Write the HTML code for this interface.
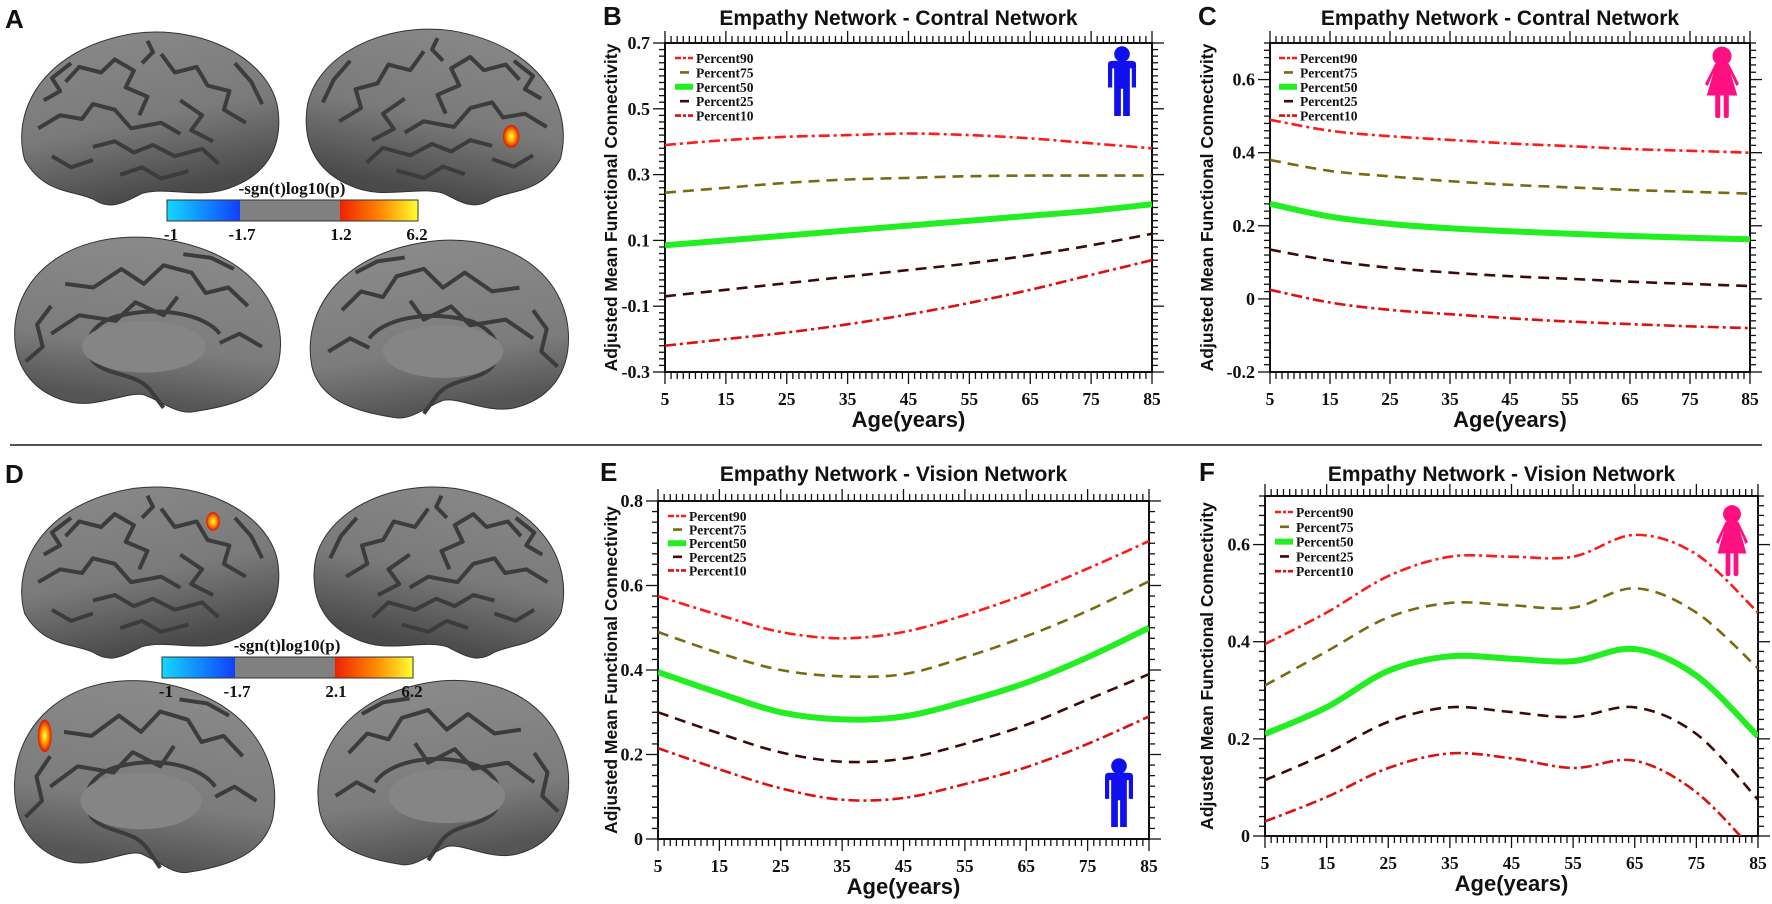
<!DOCTYPE html>
<html><head><meta charset="utf-8">
<style>
html,body{margin:0;padding:0;background:#fff;}
svg{display:block;}
.lbl{font-family:"Liberation Sans",Arial,sans-serif;font-weight:bold;fill:#111;}
.num{font-family:"Liberation Serif",serif;font-weight:bold;fill:#111;}
</style></head>
<body>
<svg id="fig" width="1772" height="904" viewBox="0 0 1772 904" xmlns="http://www.w3.org/2000/svg">
<defs>
<linearGradient id="brainGrad" x1="0" y1="0" x2="0.3" y2="1">
<stop offset="0" stop-color="#8a8a8a"/><stop offset="0.6" stop-color="#7a7a7a"/><stop offset="1" stop-color="#4a4a4a"/>
</linearGradient>
<linearGradient id="medGrad" x1="0" y1="0" x2="0.2" y2="1">
<stop offset="0" stop-color="#8c8c8c"/><stop offset="0.7" stop-color="#7c7c7c"/><stop offset="1" stop-color="#555"/>
</linearGradient>
<linearGradient id="cbar" x1="0" y1="0" x2="1" y2="0">
<stop offset="0" stop-color="#12d8ff"/><stop offset="0.29" stop-color="#1040ff"/>
<stop offset="0.29" stop-color="#808080"/><stop offset="0.69" stop-color="#808080"/>
<stop offset="0.69" stop-color="#ee2200"/><stop offset="0.85" stop-color="#ff8800"/><stop offset="1" stop-color="#ffff30"/>
</linearGradient>
<radialGradient id="blob" cx="0.5" cy="0.5" r="0.5">
<stop offset="0" stop-color="#ffff40"/><stop offset="0.5" stop-color="#ff9900"/><stop offset="1" stop-color="#e01000"/>
</radialGradient>
</defs>
<line x1="10" y1="445" x2="1762" y2="445" stroke="#555" stroke-width="2"/>
<g id="brains"></g>
<g id="charts"></g>
</svg>
<script>
// ---------- chart data ----------
const ages = [5, 15, 25, 35, 45, 55, 65, 75, 85];
const seriesNames = ["Percent90", "Percent75", "Percent50", "Percent25", "Percent10"];
const xTickLabels = ["5", "15", "25", "35", "45", "55", "65", "75", "85"];

const bP90 = [0.39, 0.405, 0.415, 0.42, 0.425, 0.42, 0.41, 0.395, 0.38];
const bP75 = [0.245, 0.26, 0.275, 0.285, 0.29, 0.295, 0.297, 0.297, 0.297];
const bP50 = [0.085, 0.10, 0.115, 0.13, 0.145, 0.16, 0.175, 0.19, 0.21];
const bP25 = [-0.07, -0.05, -0.03, -0.01, 0.01, 0.03, 0.055, 0.085, 0.12];
const bP10 = [-0.22, -0.20, -0.18, -0.155, -0.125, -0.09, -0.05, -0.005, 0.04];
const bYTicks = [-0.3, -0.1, 0.1, 0.3, 0.5, 0.7];
const bYLabels = ["-0.3", "-0.1", "0.1", "0.3", "0.5", "0.7"];

const cP90 = [0.49, 0.46, 0.445, 0.435, 0.425, 0.418, 0.41, 0.405, 0.40];
const cP75 = [0.38, 0.35, 0.335, 0.322, 0.312, 0.305, 0.298, 0.293, 0.288];
const cP50 = [0.26, 0.225, 0.205, 0.193, 0.185, 0.178, 0.172, 0.167, 0.163];
const cP25 = [0.135, 0.105, 0.085, 0.072, 0.062, 0.055, 0.047, 0.041, 0.035];
const cP10 = [0.025, -0.01, -0.03, -0.042, -0.053, -0.062, -0.069, -0.075, -0.08];
const cYTicks = [-0.2, 0, 0.2, 0.4, 0.6];
const cYLabels = ["-0.2", "0", "0.2", "0.4", "0.6"];

const eP90 = [0.575, 0.53, 0.49, 0.475, 0.49, 0.53, 0.58, 0.64, 0.705];
const eP75 = [0.49, 0.44, 0.40, 0.385, 0.39, 0.43, 0.48, 0.54, 0.61];
const eP50 = [0.395, 0.345, 0.30, 0.283, 0.29, 0.325, 0.37, 0.43, 0.50];
const eP25 = [0.30, 0.25, 0.205, 0.183, 0.19, 0.225, 0.27, 0.33, 0.39];
const eP10 = [0.215, 0.165, 0.12, 0.093, 0.097, 0.13, 0.17, 0.225, 0.29];
const eYTicks = [0, 0.2, 0.4, 0.6, 0.8];
const eYLabels = ["0", "0.2", "0.4", "0.6", "0.8"];

const fP90 = [0.395, 0.46, 0.535, 0.575, 0.575, 0.575, 0.62, 0.58, 0.46];
const fP75 = [0.31, 0.38, 0.45, 0.48, 0.475, 0.47, 0.51, 0.46, 0.345];
const fP50 = [0.21, 0.265, 0.34, 0.37, 0.365, 0.36, 0.385, 0.33, 0.205];
const fP25 = [0.115, 0.17, 0.235, 0.265, 0.255, 0.245, 0.265, 0.21, 0.075];
const fP10 = [0.03, 0.08, 0.14, 0.17, 0.16, 0.14, 0.155, 0.09, -0.04];
const fYTicks = [0, 0.2, 0.4, 0.6];
const fYLabels = ["0", "0.2", "0.4", "0.6"];

const NS = "http://www.w3.org/2000/svg";
function mk(tag, attrs, parent) {
  const e = document.createElementNS(NS, tag);
  for (const k in attrs) e.setAttribute(k, attrs[k]);
  if (parent) parent.appendChild(e);
  return e;
}
const styles = [
  {c: "#ff1a1a", w: 2.6, d: "11 4 3 4"},
  {c: "#7a6a10", w: 2.6, d: "11 7"},
  {c: "#22ee22", w: 6, d: ""},
  {c: "#3d0a0a", w: 2.6, d: "11 7"},
  {c: "#dd1010", w: 2.6, d: "11 4 3 4"}
];

function smoothPath(pts) {
  let d = "M" + pts[0][0].toFixed(1) + "," + pts[0][1].toFixed(1);
  for (let i = 0; i < pts.length - 1; i++) {
    const p0 = pts[Math.max(0, i - 1)], p1 = pts[i], p2 = pts[i + 1], p3 = pts[Math.min(pts.length - 1, i + 2)];
    const c1 = [p1[0] + (p2[0] - p0[0]) / 6, p1[1] + (p2[1] - p0[1]) / 6];
    const c2 = [p2[0] - (p3[0] - p1[0]) / 6, p2[1] - (p3[1] - p1[1]) / 6];
    d += " C" + c1[0].toFixed(1) + "," + c1[1].toFixed(1) + " " + c2[0].toFixed(1) + "," + c2[1].toFixed(1) + " " + p2[0].toFixed(1) + "," + p2[1].toFixed(1);
  }
  return d;
}

function icon(g, kind, x, y, w, h) {
  const ic = mk("g", {}, g);
  
  
  const col = kind === 'male' ? "#1010ee" : "#ff1080";
  const cx = x + w / 2;
  mk("circle", {cx: cx, cy: y + h * 0.09, r: w * 0.28, fill: col}, ic);
  if (kind === 'male') {
    mk("path", {d: `M${x} ${y+h*0.24} Q${x} ${y+h*0.19} ${x+w*0.15} ${y+h*0.19} L${x+w*0.85} ${y+h*0.19} Q${x+w} ${y+h*0.19} ${x+w} ${y+h*0.24} L${x+w} ${y+h*0.58} L${x+w*0.85} ${y+h*0.58} L${x+w*0.85} ${y+h*0.3} L${x+w*0.78} ${y+h*0.3} L${x+w*0.78} ${y+h} L${x+w*0.54} ${y+h} L${x+w*0.54} ${y+h*0.6} L${x+w*0.46} ${y+h*0.6} L${x+w*0.46} ${y+h} L${x+w*0.22} ${y+h} L${x+w*0.22} ${y+h*0.3} L${x+w*0.15} ${y+h*0.3} L${x+w*0.15} ${y+h*0.58} L${x} ${y+h*0.58} Z`, fill: col}, ic);
  } else {
    mk("path", {d: `M${x+w*0.3} ${y+h*0.2} L${x+w*0.7} ${y+h*0.2} L${x+w} ${y+h*0.5} L${x+w*0.92} ${y+h*0.53} L${x+w*0.75} ${y+h*0.33} L${x+w*0.95} ${y+h*0.67} L${x+w*0.05} ${y+h*0.67} L${x+w*0.25} ${y+h*0.33} L${x+w*0.08} ${y+h*0.53} L${x} ${y+h*0.5} Z`, fill: col}, ic);
    mk("rect", {x: x + w * 0.3, y: y + h * 0.66, width: w * 0.15, height: h * 0.34, rx: 2, fill: col}, ic);
    mk("rect", {x: x + w * 0.55, y: y + h * 0.66, width: w * 0.15, height: h * 0.34, rx: 2, fill: col}, ic);
  }
}

function chart(cfg) {
  const root = document.getElementById("charts");
  const g = mk("g", {}, root);
  
  
  const {l, r, t, b} = cfg.box;
  const X = a => l + (a - 5) / 80 * (r - l);
  const Y = v => b - (v - cfg.ymin) / (cfg.ymax - cfg.ymin) * (b - t);

  const letter = mk("text", {x: cfg.letterX, y: cfg.titleY, class: "lbl", "font-size": 26}, g);
  letter.textContent = cfg.id.toUpperCase();
  
  
  const title = mk("text", {x: (l + r) / 2 - 10, y: cfg.titleY, class: "lbl", "font-size": 21, "text-anchor": "middle"}, g);
  title.textContent = cfg.title;
  
  

  const frame = mk("rect", {x: l, y: t, width: r - l, height: b - t, fill: "none", stroke: "#111", "stroke-width": 2}, g);
  
  

  const xt = mk("g", {stroke: "#111", "stroke-width": 1.3}, g);
  
  
  for (let a = 5; a <= 85; a++) {
    const major = (a - 5) % 10 === 0;
    const len = major ? 12 : 7;
    mk("line", {x1: X(a), y1: b, x2: X(a), y2: b + len}, xt);
    mk("line", {x1: X(a), y1: t, x2: X(a), y2: t - len}, xt);
  }
  ages.forEach((a, i) => {
    const tx = mk("text", {x: X(a), y: b + 33, class: "num", "font-size": 17.5, "text-anchor": "middle"}, g);
    tx.textContent = xTickLabels[i];
    
    
  });
  const yt = mk("g", {stroke: "#111", "stroke-width": 1.3}, g);
  
  
  const n = Math.round((cfg.ymax - cfg.ymin) / cfg.minor);
  for (let k = 0; k <= n; k++) {
    const v = cfg.ymin + k * cfg.minor;
    const major = cfg.yTicks.some(tv => Math.abs(tv - v) < 1e-6);
    const len = major ? 12 : 6;
    mk("line", {x1: l, y1: Y(v), x2: l - len, y2: Y(v)}, yt);
    mk("line", {x1: r, y1: Y(v), x2: r + len, y2: Y(v)}, yt);
  }
  cfg.yTicks.forEach((v, i) => {
    const ty = mk("text", {x: l - 15, y: Y(v) + 6, class: "num", "font-size": 18, "text-anchor": "end"}, g);
    ty.textContent = cfg.yLabels[i];
    
    
  });
  const xl = mk("text", {x: (l + r) / 2, y: b + 55, class: "lbl", "font-size": 22, "text-anchor": "middle"}, g);
  xl.textContent = "Age(years)";
  
  
  const yl = mk("text", {x: 0, y: 0, class: "lbl", "font-size": 17.5, "text-anchor": "middle", transform: `translate(${cfg.ylabX},${(t + b) / 2}) rotate(-90)`}, g);
  yl.textContent = "Adjusted Mean Functional Connectivity";
  
  

  const clipId = "clip-" + cfg.id;
  const cp = mk("clipPath", {id: clipId}, g);
  mk("rect", {x: l, y: t, width: r - l, height: b - t}, cp);
  const sg = mk("g", {"clip-path": `url(#${clipId})`, fill: "none"}, g);
  cfg.series.forEach((vals, i) => {
    const pts = ages.map((a, j) => [X(a), Y(vals[j])]);
    const st = styles[i];
    const p = mk("path", {d: smoothPath(pts), stroke: st.c, "stroke-width": st.w, "stroke-dasharray": st.d}, sg);
    
    
  });
  const lg = mk("g", {}, g);
  
  
  seriesNames.forEach((nm, i) => {
    const yy = cfg.legY + i * cfg.legDy;
    const st = styles[i];
    const ent = mk("g", {}, lg);
    
    
    mk("line", {x1: cfg.legX, y1: yy, x2: cfg.legX + 18, y2: yy, stroke: st.c, "stroke-width": st.w, "stroke-dasharray": st.d ? (i === 1 || i === 3 ? "0 5 9 4" : "6 2 3 2") : ""}, ent);
    const tx = mk("text", {x: cfg.legX + 21, y: yy + 5, class: "num", "font-size": 13.5}, ent);
    tx.textContent = nm;
  });
  icon(g, cfg.icon.kind, cfg.icon.x, cfg.icon.y, cfg.icon.w, cfg.icon.h);
}

chart({id: "b", title: "Empathy Network - Contral Network", box: {l: 665, r: 1152, t: 43, b: 372},
  ymin: -0.3, ymax: 0.7, minor: 0.02, yTicks: bYTicks, yLabels: bYLabels,
  series: [bP90, bP75, bP50, bP25, bP10], letterX: 603, titleY: 25, ylabX: 617,
  legX: 675, legY: 58, legDy: 14.4, icon: {kind: "male", x: 1108, y: 48, w: 28, h: 68}});
chart({id: "c", title: "Empathy Network - Contral Network", box: {l: 1270, r: 1750, t: 43, b: 372},
  ymin: -0.2, ymax: 0.7, minor: 0.02, yTicks: cYTicks, yLabels: cYLabels,
  series: [cP90, cP75, cP50, cP25, cP10], letterX: 1198, titleY: 25, ylabX: 1213,
  legX: 1279, legY: 58, legDy: 14.4, icon: {kind: "female", x: 1705, y: 50, w: 34, h: 68}});
chart({id: "e", title: "Empathy Network - Vision Network", box: {l: 658, r: 1149, t: 501, b: 839},
  ymin: 0, ymax: 0.8, minor: 0.025, yTicks: eYTicks, yLabels: eYLabels,
  series: [eP90, eP75, eP50, eP25, eP10], letterX: 600, titleY: 481, ylabX: 617,
  legX: 668, legY: 516, legDy: 13.6, icon: {kind: "male", x: 1105, y: 760, w: 28, h: 67}});
chart({id: "f", title: "Empathy Network - Vision Network", box: {l: 1265, r: 1758, t: 496, b: 836},
  ymin: 0, ymax: 0.7, minor: 0.02, yTicks: fYTicks, yLabels: fYLabels,
  series: [fP90, fP75, fP50, fP25, fP10], letterX: 1199, titleY: 481, ylabX: 1213,
  legX: 1275, legY: 512, legDy: 14.8, icon: {kind: "female", x: 1716, y: 508, w: 32, h: 68}});

// ---------- brains ----------
const lateral = "M5,72 C0,45 12,12 45,4 C72,-1 97,20 98,48 C99,68 92,80 82,86 C70,94 58,86 48,90 C40,96 36,99 30,93 C22,88 12,90 5,72 Z";
const medial = "M4,70 C0,40 15,8 50,3 C80,0 98,25 98,55 C98,75 90,88 78,92 C68,95 58,86 52,88 C45,92 40,99 34,97 C20,94 7,88 4,70 Z";
const wiggles = [
  "M20,30 L25,22 L33,25 L38,18 L45,24 L42,33 L50,38 L47,48",
  "M10,55 L18,48 L26,50 L30,42 L38,45 L44,55 L55,52 L62,58",
  "M55,15 L60,25 L68,22 L72,32 L80,35 L78,45 L86,52",
  "M30,65 L38,62 L45,68 L52,64 L60,70 L70,66 L76,74",
  "M62,40 L70,48 L66,56 L74,62",
  "M15,70 L22,76 L30,72",
  "M12,40 L18,35 L15,28 L22,20",
  "M82,20 L88,30 L92,42",
  "M40,80 L48,76 L55,82 L65,78",
  "M50,8 L52,14 L48,20"
];
const medWiggles = [
  "M15,40 L22,30 L30,33 L35,22 L45,18 L52,28 L60,20 L70,30 L80,28",
  "M25,55 C30,45 45,40 60,45 C70,48 75,60 70,70 C65,78 55,76 50,85 L45,95",
  "M40,35 L45,45 L55,38 L62,48 L75,45 L85,55",
  "M10,62 L18,55 L25,60",
  "M20,20 L28,14 L38,12",
  "M85,40 L90,50 L88,62 L94,70"
];
function brain(x, y, w, h, shape, flip, name, blobPt) {
  const g = mk("svg", {x: x, y: y, width: w, height: h, viewBox: "0 0 100 100", preserveAspectRatio: "none", overflow: "visible"}, document.getElementById("brains"));
  
  
  const inner = mk("g", {transform: flip ? "translate(100,0) scale(-1,1)" : ""}, g);
  mk("path", {d: shape === "lat" ? lateral : medial, fill: shape === "lat" ? "url(#brainGrad)" : "url(#medGrad)", stroke: "#333", "stroke-width": 1, "vector-effect": "non-scaling-stroke"}, inner);
  (shape === "lat" ? wiggles : medWiggles).forEach(d => {
    mk("path", {d: d, fill: "none", stroke: "#3c3c3c", "stroke-width": 4, "stroke-linejoin": "round", "vector-effect": "non-scaling-stroke"}, inner);
  });
  if (shape === "med") mk("ellipse", {cx: 52, cy: 62, rx: 22, ry: 14, fill: "#858585"}, inner);
  if (blobPt) mk("ellipse", {cx: blobPt[0], cy: blobPt[1], rx: blobPt[2], ry: blobPt[3], fill: "url(#blob)"}, g);
}
brain(11, 26, 273, 186, "lat", false, "brain-a-lateral-left");
brain(301, 23, 273, 189, "lat", true, "brain-a-lateral-right", [77, 60, 3, 6]);
brain(9, 232, 281, 185, "med", true, "brain-a-medial-left");
brain(301, 235, 273, 188, "med", false, "brain-a-medial-right");
brain(11, 481, 273, 184, "lat", false, "brain-d-lateral-left", [74, 22, 2.5, 5]);
brain(309, 481, 265, 184, "lat", true, "brain-d-lateral-right");
brain(9, 675, 275, 203, "med", true, "brain-d-medial-left", [13, 30, 2.5, 8]);
brain(309, 675, 265, 195, "med", false, "brain-d-medial-right");

function colorbar(x, y, labels, pos) {
  const g = mk("g", {}, document.getElementById("brains"));
  
  
  mk("rect", {x: x, y: y, width: 251, height: 21, fill: "url(#cbar)", stroke: "#333", "stroke-width": 1}, g);
  const t = mk("text", {x: x + 125, y: y - 6, class: "num", "font-size": 17, "font-weight": "normal", "text-anchor": "middle"}, g);
  t.textContent = "-sgn(t)log10(p)";
  labels.forEach((s, i) => {
    const tx = mk("text", {x: x + pos[i], y: y + 40, class: "num", "font-size": 17, "font-weight": "normal", "text-anchor": "middle"}, g);
    tx.textContent = s;
  });
}
colorbar(167, 200, ["-1", "-1.7", "1.2", "6.2"], [4, 75, 174, 250]);
colorbar(162, 657, ["-1", "-1.7", "2.1", "6.2"], [4, 75, 174, 250]);

[["A", 5, 28], ["D", 5, 483]].forEach(([s, x, y]) => {
  const t = mk("text", {x: x, y: y, class: "lbl", "font-size": 26}, document.getElementById("brains"));
  t.textContent = s;
  
  
});
</script>
</body></html>
